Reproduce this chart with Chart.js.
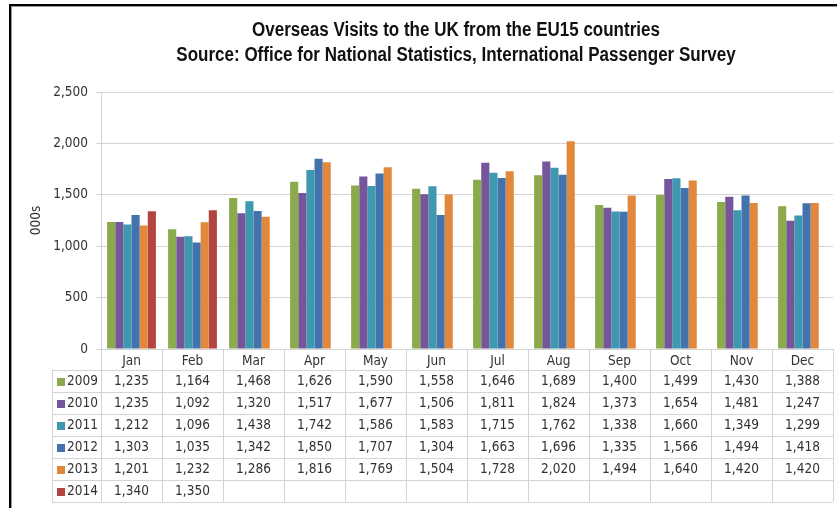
<!DOCTYPE html>
<html>
<head>
<meta charset="utf-8">
<script src="https://cdn.jsdelivr.net/npm/chart.js@4"></script>
<style>
  html, body { margin: 0; padding: 0; background: #ffffff; }
  #wrap { position: relative; width: 837px; height: 508px; }
</style>
</head>
<body>
<div id="wrap"><canvas id="c" width="837" height="508"></canvas></div>
<script>
// Monthly overseas visits (thousands) from EU15 countries, by year
const months = ['Jan', 'Feb', 'Mar', 'Apr', 'May', 'Jun', 'Jul', 'Aug', 'Sep', 'Oct', 'Nov', 'Dec'];
const years = ['2009', '2010', '2011', '2012', '2013', '2014'];

const visits2009 = [1235, 1164, 1468, 1626, 1590, 1558, 1646, 1689, 1400, 1499, 1430, 1388];
const visits2010 = [1235, 1092, 1320, 1517, 1677, 1506, 1811, 1824, 1373, 1654, 1481, 1247];
const visits2011 = [1212, 1096, 1438, 1742, 1586, 1583, 1715, 1762, 1338, 1660, 1349, 1299];
const visits2012 = [1303, 1035, 1342, 1850, 1707, 1304, 1663, 1696, 1335, 1566, 1494, 1418];
const visits2013 = [1201, 1232, 1286, 1816, 1769, 1504, 1728, 2020, 1494, 1640, 1420, 1420];
const visits2014 = [1340, 1350, null, null, null, null, null, null, null, null, null, null];

const yTicks = [0, 500, 1000, 1500, 2000, 2500];

const titleLines = ['Overseas Visits to the UK from the EU15 countries',
                    'Source: Office for National Statistics, International Passenger Survey'];

const seriesValues = [visits2009, visits2010, visits2011, visits2012, visits2013, visits2014];
const seriesColors = ['#8BAA4C', '#75569A', '#3D98B0', '#4472AC', '#E2883C', '#B2453F'];

const FONT = "'Liberation Sans Narrow', 'Arial Narrow', 'DejaVu Sans Condensed', sans-serif";
const TEXT = '#333333';
const LINE = '#D4D4D4';

const fmt = v => (v === null || v === undefined) ? '' : v.toLocaleString('en-US');

// Two-line heading set in a horizontally condensed bold face
const heading = {
  id: 'heading',
  afterDraw(chart) {
    const ctx = chart.ctx;
    const cx = (chart.chartArea.left + chart.chartArea.right) / 2 - 11;
    const squeeze = 0.85;
    ctx.save();
    ctx.fillStyle = '#111111';
    ctx.font = "bold 20px 'Liberation Sans', Arial, sans-serif";
    ctx.textAlign = 'center';
    ctx.textBaseline = 'middle';
    ctx.translate(cx, 0);
    ctx.scale(squeeze, 1);
    titleLines.forEach((t, i) => ctx.fillText(t, 0, 30 + i * 25));
    ctx.restore();
  }
};

// Data table drawn beneath the plot, aligned to the category scale
const dataTable = {
  id: 'dataTable',
  afterDraw(chart) {
    const ctx = chart.ctx;
    const x = chart.scales.x;
    const area = chart.chartArea;
    const n = months.length;
    const colW = (x.right - x.left) / n;
    const top = area.bottom;
    const headH = 21, rowH = 22;
    const legendLeft = 52;
    const tableLeft = x.left, tableRight = x.right;
    const bodyTop = top + headH;
    const bottom = bodyTop + rowH * years.length;

    ctx.save();
    ctx.strokeStyle = LINE;
    ctx.lineWidth = 1;
    ctx.beginPath();
    // header row borders
    ctx.moveTo(tableLeft, top + 0.5); ctx.lineTo(tableRight, top + 0.5);
    // body rows
    for (let r = 0; r <= years.length; r++) {
      const yy = Math.round(bodyTop + r * rowH) + 0.5;
      ctx.moveTo(legendLeft, yy); ctx.lineTo(tableRight, yy);
    }
    // legend column left edge
    ctx.moveTo(legendLeft + 0.5, bodyTop); ctx.lineTo(legendLeft + 0.5, bottom);
    // category boundaries
    for (let i = 0; i <= n; i++) {
      const xx = Math.round(tableLeft + i * colW) + 0.5;
      ctx.moveTo(xx, top); ctx.lineTo(xx, bottom);
    }
    ctx.stroke();

    ctx.fillStyle = TEXT;
    ctx.font = '13.5px ' + FONT;
    ctx.textBaseline = 'middle';
    // values
    ctx.textAlign = 'center';
    for (let r = 0; r < years.length; r++) {
      const cy = bodyTop + r * rowH + rowH / 2 + 0.5;
      for (let i = 0; i < n; i++) {
        const cx = x.getPixelForValue(i);
        ctx.fillText(fmt(seriesValues[r][i]), cx, cy);
      }
    }
    // legend keys
    ctx.textAlign = 'left';
    for (let r = 0; r < years.length; r++) {
      const cy = bodyTop + r * rowH + rowH / 2;
      ctx.fillStyle = seriesColors[r];
      ctx.fillRect(legendLeft + 5, Math.round(cy - 3.5), 8, 8);
      ctx.fillStyle = TEXT;
      ctx.fillText(years[r], legendLeft + 15, cy + 0.5);
    }
    ctx.restore();
  }
};

// Outer frame lines along the top and left edges
const frame = {
  id: 'frame',
  beforeDraw(chart) {
    const ctx = chart.ctx;
    ctx.save();
    ctx.fillStyle = '#ffffff';
    ctx.fillRect(0, 0, chart.width, chart.height);
    ctx.fillStyle = '#9a9a9a';
    ctx.fillRect(9, 4, chart.width - 9, 3);
    ctx.fillRect(9, 4, 3, chart.height - 4);
    ctx.fillStyle = '#000000';
    ctx.fillRect(9, 4, chart.width - 9, 2);
    ctx.fillRect(9, 4, 2, chart.height - 4);
    ctx.restore();
  }
};

new Chart(document.getElementById('c'), {
  type: 'bar',
  data: {
    labels: months,
    datasets: years.map((y, i) => ({
      label: y,
      data: seriesValues[i],
      backgroundColor: seriesColors[i],
      borderWidth: 0,
      categoryPercentage: 0.8,
      barPercentage: 1.0
    }))
  },
  options: {
    responsive: false,
    animation: false,
    devicePixelRatio: 1,
    layout: { padding: { left: 14, right: 4, top: 92, bottom: 138 } },
    plugins: {
      legend: { display: false },
      tooltip: { enabled: false },
      title: { display: false }
    },
    scales: {
      x: {
        grid: { display: false, drawTicks: false },
        border: { display: false },
        ticks: { color: TEXT, font: { family: FONT, size: 13.5 }, padding: 4 },
        afterFit(scale) { scale.height = 21; }
      },
      y: {
        min: 0,
        max: 2500,
        afterBuildTicks(scale) { scale.ticks = yTicks.map(v => ({ value: v })); },
        grid: { color: LINE, drawTicks: true, tickLength: 5, tickColor: LINE },
        border: { display: true, color: LINE },
        ticks: {
          color: TEXT,
          font: { family: FONT, size: 13.5 },
          padding: 8,
          callback: v => fmt(v)
        },
        title: {
          display: true,
          text: '000s',
          color: TEXT,
          font: { family: FONT, size: 13.5 },
          padding: { top: 14, bottom: 0 }
        },
        afterFit(scale) { scale.width = 101 - 14; }
      }
    }
  },
  plugins: [frame, dataTable, heading]
});
</script>
</body>
</html>
